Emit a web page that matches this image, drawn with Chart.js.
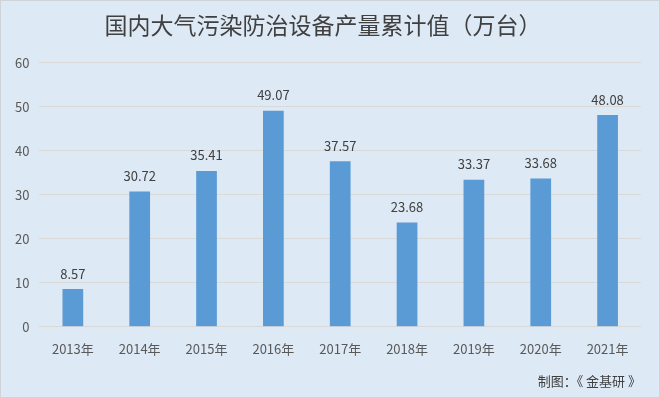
<!DOCTYPE html>
<html>
<head>
<meta charset="utf-8">
<script src="https://cdn.jsdelivr.net/npm/chart.js@4.4.0/dist/chart.umd.min.js"></script>
<style>
  html, body { margin: 0; padding: 0; background: #fff; }
  #wrap {
    width: 658px; height: 396px;
    background: #dde9f5;
    border: 1px solid #d0d4d8;
  }
</style>
</head>
<body>
<div id="wrap"><canvas id="prodChart" width="658" height="396"></canvas></div>
<script>
var years = ['2013年', '2014年', '2015年', '2016年', '2017年', '2018年', '2019年', '2020年', '2021年'];
var output = [8.57, 30.72, 35.41, 49.07, 37.57, 23.68, 33.37, 33.68, 48.08];
var yTicks = [0, 10, 20, 30, 40, 50, 60];

var cjk = '"Noto Sans CJK SC", "Microsoft YaHei", sans-serif';

// value labels above each bar
var barLabels = {
    id: 'barLabels',
    afterDatasetsDraw: function (chart) {
        var ctx = chart.ctx;
        var meta = chart.getDatasetMeta(0);
        ctx.save();
        ctx.font = '13px ' + cjk;
        ctx.fillStyle = '#404040';
        ctx.textAlign = 'center';
        ctx.textBaseline = 'bottom';
        meta.data.forEach(function (bar, i) {
            ctx.fillText(output[i].toFixed(2), bar.x, bar.y - 9);
        });
        ctx.restore();
    }
};

var ctx = document.getElementById('prodChart').getContext('2d');
var prodChart = new Chart(ctx, {
    type: 'bar',
    data: {
        labels: years,
        datasets: [{
            label: '产量累计值',
            data: output,
            backgroundColor: '#5b9bd5',
            categoryPercentage: 1,
            barPercentage: 0.31
        }]
    },
    options: {
        responsive: false,
        animation: false,
        layout: { padding: { left: 4, right: 18, top: 0, bottom: 4 } },
        plugins: {
            legend: { display: false },
            tooltip: { enabled: false },
            title: {
                display: true,
                text: '国内大气污染防治设备产量累计值（万台）',
                color: '#404040',
                font: { family: cjk, size: 23, weight: 'normal' },
                padding: { top: 10, bottom: 24 }
            },
            subtitle: {
                display: true,
                position: 'bottom',
                align: 'end',
                text: '制图：《 金基研 》',
                color: '#404040',
                font: { family: cjk, size: 13 },
                padding: { top: 11, bottom: 4 }
            }
        },
        scales: {
            x: {
                grid: { display: false },
                border: { display: false },
                ticks: { color: '#595959', font: { family: cjk, size: 13 }, padding: 6 }
            },
            y: {
                min: 0,
                max: 60,
                afterBuildTicks: function (axis) {
                    axis.ticks = yTicks.map(function (v) { return { value: v }; });
                },
                grid: { color: '#d9d9d9', drawTicks: false },
                border: { display: false },
                ticks: { color: '#595959', font: { family: cjk, size: 13 }, padding: 10 }
            }
        }
    },
    plugins: [barLabels]
});
</script>
</body>
</html>
